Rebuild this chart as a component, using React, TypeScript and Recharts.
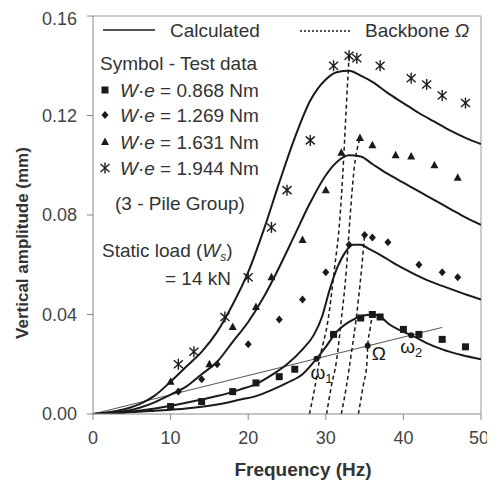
import React from 'react';
import { ComposedChart, Line, Scatter, XAxis, YAxis, ReferenceLine } from 'recharts';

type Pt = [number, number];

// calculated curves: [frequency Hz, amplitude mm]
const calc0868: Pt[] = [
  [0, 0], [4, 0.0005], [8, 0.0013], [12, 0.0022], [16, 0.0038], [19, 0.0058], [21, 0.0072],
  [23, 0.0096], [25, 0.0125], [27, 0.016], [28.8, 0.0222], [30, 0.027], [31.4, 0.033],
  [33, 0.037], [34.5, 0.0393], [36, 0.04], [37, 0.0392], [38, 0.0365], [40, 0.033],
  [41, 0.0317], [43, 0.0285], [45, 0.026], [47.5, 0.0237], [50, 0.022],
];
const calc1269: Pt[] = [
  [0, 0], [4, 0.0007], [8, 0.0022], [12, 0.0045], [14, 0.0058], [16, 0.0072], [18.9, 0.0098],
  [21, 0.012], [23.2, 0.016], [25, 0.02], [27, 0.026], [28.5, 0.032], [29.5, 0.039],
  [30.5, 0.05], [31.5, 0.059], [32.5, 0.065], [33.5, 0.068], [34.5, 0.068], [35.5, 0.0665],
  [37, 0.064], [38.6, 0.061], [40, 0.0585], [42.9, 0.054], [45, 0.0515], [47.2, 0.049], [50, 0.046],
];
const calc1631: Pt[] = [
  [0, 0], [3, 0.0006], [6, 0.0025], [8, 0.0048], [10, 0.0078], [12, 0.011], [14, 0.016],
  [16, 0.021], [18, 0.029], [20, 0.037], [22, 0.047], [24, 0.059], [26, 0.072], [28, 0.085],
  [30, 0.096], [31.5, 0.1015], [33, 0.104], [34.5, 0.1035], [36, 0.1005], [38, 0.0965],
  [40, 0.093], [42, 0.0895], [44, 0.086], [46, 0.0825], [48, 0.079], [50, 0.076],
];
const calc1944: Pt[] = [
  [0, 0], [3, 0.0012], [6, 0.004], [8, 0.0075], [10, 0.013], [12, 0.019], [14, 0.025],
  [16, 0.033], [18, 0.044], [20, 0.057], [22, 0.074], [24, 0.093], [26, 0.111], [28, 0.126],
  [30, 0.1345], [31.5, 0.1375], [33, 0.138], [34.5, 0.136], [36, 0.1335], [38, 0.129],
  [40, 0.125], [42, 0.121], [44, 0.1175], [46, 0.114], [48, 0.111], [50, 0.1085],
];

// test data
const test0868: Pt[] = [
  [10, 0.003], [14, 0.005], [18, 0.009], [21, 0.0125], [24, 0.015], [26, 0.018], [31, 0.032],
  [34.5, 0.0386], [36, 0.04], [37, 0.039], [40, 0.034], [42, 0.032], [45, 0.03], [48, 0.027],
];
const test1269: Pt[] = [
  [11, 0.009], [14, 0.014], [16, 0.02], [20, 0.028], [24, 0.038], [27, 0.046], [30, 0.057],
  [33, 0.068], [35, 0.072], [36, 0.071], [38, 0.069], [42, 0.06], [45, 0.057], [47, 0.055],
];
const test1631: Pt[] = [
  [10, 0.013], [15, 0.02], [18, 0.035], [21, 0.043], [23, 0.055], [27, 0.07], [30, 0.09],
  [32, 0.105], [34.4, 0.111], [36, 0.108], [39, 0.104], [41, 0.1035], [44, 0.1], [47, 0.095],
];
const test1944: Pt[] = [
  [11, 0.02], [13, 0.025], [17, 0.039], [20, 0.055], [23, 0.075], [25, 0.09], [28, 0.11],
  [31, 0.14], [33, 0.144], [34, 0.143], [37, 0.14], [41, 0.135], [43, 0.1325], [45, 0.128], [48, 0.125],
];

// backbone curves
const backbone1: Pt[] = [[27.9, 0], [28.6, 0.011], [29.2, 0.022], [30.3, 0.038], [31.1, 0.058], [31.8, 0.078], [32.2, 0.097], [32.65, 0.124], [33, 0.144]];
const backbone2: Pt[] = [[30.1, 0], [30.7, 0.011], [31.4, 0.0218], [32, 0.038], [32.65, 0.058], [33.1, 0.078], [33.6, 0.097], [34.4, 0.111]];
const backbone3: Pt[] = [[32, 0], [32.65, 0.011], [33.3, 0.0246], [33.9, 0.038], [34.6, 0.058], [35, 0.072]];
const backbone4: Pt[] = [[34.2, 0], [34.8, 0.011], [35.3, 0.0206], [35.4, 0.0274], [35.7, 0.034], [36, 0.04]];

const slopeLine: Pt[] = [[0, 0], [45, 0.0348]];

const markFreq = [28.8, 35.4, 41.0];
const markAmp = [0.0222, 0.0274, 0.0317];
const markName = ['ω1', 'Ω', 'ω2'];

const xTicks = [0, 10, 20, 30, 40, 50];
const yTicks = [0, 0.04, 0.08, 0.12, 0.16];

const rows = (pts: Pt[]) => pts.map(([f, a]) => ({ f, a }));
const marks = markFreq.map((f, i) => ({ f, a: markAmp[i], name: markName[i] }));

const ink = '#1a1a1a';
const txt = '#333';
const font = '"Liberation Sans", Arial, sans-serif';

const Square = ({ cx, cy }: any) => <rect x={cx - 3.5} y={cy - 3.5} width={7} height={7} fill={ink} />;
const Diamond = ({ cx, cy }: any) => (
  <path d={`M${cx},${cy - 4}L${cx + 3.5},${cy}L${cx},${cy + 4}L${cx - 3.5},${cy}Z`} fill={ink} />
);
const Triangle = ({ cx, cy }: any) => (
  <path d={`M${cx},${cy - 4.5}L${cx + 4},${cy + 3}L${cx - 4},${cy + 3}Z`} fill={ink} />
);
const Star = ({ cx, cy }: any) => (
  <g stroke={ink} strokeWidth={1.4}>
    <line x1={cx} y1={cy - 5.5} x2={cx} y2={cy + 5.5} />
    <line x1={cx - 4.5} y1={cy - 4} x2={cx + 4.5} y2={cy + 4} />
    <line x1={cx - 4.5} y1={cy + 4} x2={cx + 4.5} y2={cy - 4} />
  </g>
);

const Mark = ({ cx, cy, payload }: any) => {
  const name: string = payload.name;
  let dx = -6, dy = 20;
  if (name === 'Ω') { dx = 4; dy = 14; }
  if (name === 'ω2') { dx = -11; dy = 18; }
  return (
    <g>
      <circle cx={cx} cy={cy} r={3} fill={ink} />
      <text x={cx + dx} y={cy + dy} fontSize={19} fill={ink} fontFamily={font}>
        {name[0]}
        {name.length > 1 && <tspan fontSize={13} dy={4}>{name[1]}</tspan>}
      </text>
    </g>
  );
};

const legendRows = [
  { label: '0.868', Shape: Square },
  { label: '1.269', Shape: Diamond },
  { label: '1.631', Shape: Triangle },
  { label: '1.944', Shape: Star },
];
const rowY = [82, 107, 134, 160];

export default function App() {
  const W = 480;
  const H = 476;
  return (
    <div style={{ position: 'relative', width: W, height: H, fontFamily: font }}>
      <ComposedChart width={W} height={H} margin={{ top: 8, right: 7, left: 0, bottom: 0 }}>
        <XAxis
          type="number"
          dataKey="f"
          domain={[0, 50]}
          ticks={xTicks}
          allowDataOverflow
          stroke="#888"
          tick={{ fill: '#444', fontSize: 18, fontFamily: font }}
          tickSize={6}
          tickMargin={11}
          height={70}
        />
        <YAxis
          type="number"
          dataKey="a"
          domain={[0, 0.16]}
          ticks={yTicks}
          allowDataOverflow
          tickFormatter={(v: number) => v.toFixed(2)}
          stroke="#888"
          tick={{ fill: '#444', fontSize: 18, fontFamily: font }}
          tickSize={6}
          tickMargin={10}
          width={85}
        />
        <ReferenceLine y={0.16} stroke="#999" />
        <ReferenceLine x={50} stroke="#999" />

        <Line data={rows(slopeLine)} dataKey="a" stroke="#555" strokeWidth={1} dot={false} isAnimationActive={false} />

        <Line data={rows(calc0868)} dataKey="a" type="monotone" stroke={ink} strokeWidth={2} dot={false} isAnimationActive={false} />
        <Line data={rows(calc1269)} dataKey="a" type="monotone" stroke={ink} strokeWidth={2} dot={false} isAnimationActive={false} />
        <Line data={rows(calc1631)} dataKey="a" type="monotone" stroke={ink} strokeWidth={2} dot={false} isAnimationActive={false} />
        <Line data={rows(calc1944)} dataKey="a" type="monotone" stroke={ink} strokeWidth={2} dot={false} isAnimationActive={false} />

        <Line data={rows(backbone1)} dataKey="a" type="monotone" stroke={ink} strokeWidth={1.5} strokeDasharray="4 3" dot={false} isAnimationActive={false} />
        <Line data={rows(backbone2)} dataKey="a" type="monotone" stroke={ink} strokeWidth={1.5} strokeDasharray="4 3" dot={false} isAnimationActive={false} />
        <Line data={rows(backbone3)} dataKey="a" type="monotone" stroke={ink} strokeWidth={1.5} strokeDasharray="4 3" dot={false} isAnimationActive={false} />
        <Line data={rows(backbone4)} dataKey="a" type="monotone" stroke={ink} strokeWidth={1.5} strokeDasharray="4 3" dot={false} isAnimationActive={false} />

        <Scatter data={rows(test0868)} dataKey="a" shape={Square} isAnimationActive={false} />
        <Scatter data={rows(test1269)} dataKey="a" shape={Diamond} isAnimationActive={false} />
        <Scatter data={rows(test1631)} dataKey="a" shape={Triangle} isAnimationActive={false} />
        <Scatter data={rows(test1944)} dataKey="a" shape={Star} isAnimationActive={false} />
        <Scatter data={marks} dataKey="a" shape={Mark} isAnimationActive={false} />
      </ComposedChart>

      <svg width={W} height={H} style={{ position: 'absolute', left: 0, top: 0, pointerEvents: 'none', overflow: 'visible' }}>
        <g fontFamily={font} fontSize={19} fill={txt}>
          <line x1={95} y1={22} x2={147} y2={22} stroke={ink} strokeWidth={1.5} />
          <text x={162} y={29}>Calculated</text>
          <line x1={292} y1={23} x2={342} y2={23} stroke={ink} strokeWidth={1.5} strokeDasharray="2 2" />
          <text x={357} y={29}>Backbone <tspan fontStyle="italic">Ω</tspan></text>
          <text x={92} y={62}>Symbol - Test data</text>
          {legendRows.map(({ label, Shape }, i) => (
            <g key={label}>
              <Shape cx={97} cy={rowY[i]} />
              <text x={112} y={rowY[i] + 6.5}>
                <tspan fontStyle="italic">W</tspan>·<tspan fontStyle="italic">e</tspan> = {label} Nm
              </text>
            </g>
          ))}
          <text x={107} y={202}>(3 - Pile Group)</text>
          <text x={94} y={249}>
            Static load (<tspan fontStyle="italic">W</tspan><tspan fontStyle="italic" fontSize={12} dy={4}>s</tspan><tspan dy={-4}>)</tspan>
          </text>
          <text x={157} y={277}>= 14 kN</text>
        </g>
        <text x={295} y={468} textAnchor="middle" fontFamily={font} fontSize={19} fontWeight="bold" fill={txt}>
          Frequency (Hz)
        </text>
        <text transform="translate(20,235) rotate(-90)" textAnchor="middle" fontFamily={font} fontSize={17} fontWeight="bold" fill={txt}>
          Vertical amplitude (mm)
        </text>
      </svg>
    </div>
  );
}
